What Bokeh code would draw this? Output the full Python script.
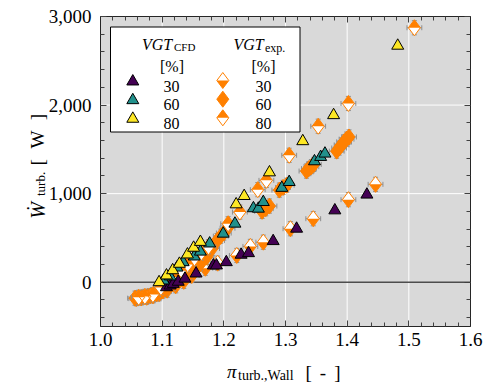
import numpy as np
from bokeh.plotting import figure
from bokeh.models import Range1d, FixedTicker, NumeralTickFormatter, LinearAxis, Label, BoxAnnotation
from bokeh.embed import file_html
from bokeh.resources import INLINE

# ---------------- data ----------------
vgt_levels = ["30", "60", "80"]

# CFD (triangles)
cfd30_pi = [1.107, 1.113, 1.118, 1.126, 1.137, 1.155, 1.183, 1.188, 1.204, 1.228, 1.240, 1.280, 1.318, 1.380, 1.432]
cfd30_W = [-57, -37, -19, 5, 40, 98, 189, 189, 226, 310, 328, 464, 604, 811, 989]

cfd60_pi = [1.102, 1.113, 1.124, 1.134, 1.152, 1.162, 1.177, 1.199, 1.218, 1.248, 1.256, 1.264, 1.294, 1.306, 1.347, 1.357, 1.364]
cfd60_W = [19, 65, 165, 226, 290, 345, 437, 548, 661, 835, 830, 905, 1065, 1131, 1365, 1414, 1452]

cfd80_pi = [1.095, 1.107, 1.117, 1.128, 1.141, 1.151, 1.162, 1.220, 1.233, 1.274, 1.328, 1.378, 1.482]
cfd80_W = [0, 76, 135, 208, 313, 389, 455, 879, 973, 1240, 1592, 1886, 2670]

# Experiment (diamonds)
exp30_pi = [1.058, 1.066, 1.075, 1.085, 1.095, 1.108, 1.122, 1.135, 1.148, 1.170, 1.190, 1.221, 1.243, 1.264, 1.308, 1.345, 1.402, 1.446]
exp30_W = [-185, -178, -170, -155, -130, -90, -40, 10, 76, 158, 215, 302, 404, 452, 604, 717, 932, 1105]

exp60_pi = [1.056, 1.061, 1.066, 1.071, 1.076, 1.081, 1.086, 1.091, 1.096, 1.101, 1.106, 1.112, 1.118, 1.124,
            1.130, 1.137, 1.145, 1.153, 1.162, 1.172, 1.181, 1.189, 1.195, 1.200, 1.206, 1.262, 1.268, 1.274,
            1.290, 1.296, 1.302, 1.334, 1.338, 1.342, 1.346, 1.383, 1.387, 1.391, 1.395, 1.399, 1.403]
exp60_W = [-180, -176, -172, -166, -160, -152, -144, -132, -118, -100, -75, -45, -15, 19,
           55, 85, 113, 160, 208, 283, 380, 470, 520, 555, 610, 800, 830, 860,
           1040, 1070, 1095, 1255, 1283, 1305, 1330, 1480, 1515, 1550, 1585, 1615, 1640]

exp80_pi = [1.062, 1.072, 1.085, 1.098, 1.110, 1.120, 1.130, 1.141, 1.152, 1.163, 1.175, 1.207, 1.226, 1.255,
            1.269, 1.306, 1.353, 1.402, 1.509]
exp80_W = [-170, -160, -140, -60, -5, 60, 130, 200, 270, 330, 400, 660, 792, 1045,
           1150, 1433, 1761, 2018, 2873]

pi_err = 0.012
W_err = 80

x_ticks = [1.0, 1.1, 1.2, 1.3, 1.4, 1.5, 1.6]
y_ticks = [0, 1000, 2000, 3000]

# ---------------- layout ----------------
WID, HEI = 487, 387
BL, BR, BT, BB = 100, 17, 16, 61          # plot box inside the canvas
FW, FH = WID - BL - BR, HEI - BT - BB
X0, X1 = 1.0, 1.6
Y0, Y1 = -500, 3000
SX = (X1 - X0) / FW
SY = (Y1 - Y0) / FH

def dx(cx):
    return X0 + (cx - BL) * SX

def dy(cy):
    return Y1 - (cy - BT) * SY

DW = 6.0 * SX
DH = 8.0 * SY

FONT = "Liberation Serif"
ORANGE = "#ff8000"
COLS = ["#440154", "#21918c", "#fde725"]
AXC = "#262626"

p = figure(width=WID, height=HEI,
           x_range=Range1d(dx(0), dx(WID)), y_range=Range1d(dy(HEI), dy(0)),
           output_backend="svg", toolbar_location=None,
           min_border_left=0, min_border_right=0, min_border_top=0, min_border_bottom=0,
           background_fill_color="white", border_fill_color="white")
p.outline_line_color = None
p.xgrid.visible = False
p.ygrid.visible = False

# plot-area background
p.add_layout(BoxAnnotation(left=X0, right=X1, bottom=Y0, top=Y1, fill_color="#d9d9d9",
                           fill_alpha=1, line_color=None, level="image"))

xminor = [round(v, 2) for v in np.arange(1.0, 1.6001, 0.02)]
yminor = list(range(-400, 3001, 200))
xt = FixedTicker(ticks=x_ticks, minor_ticks=xminor)
yt = FixedTicker(ticks=y_ticks, minor_ticks=yminor)

def style_axis(ax, show):
    ax.axis_line_color = AXC
    ax.major_tick_line_color = "#404040"
    ax.minor_tick_line_color = "#404040"
    ax.major_tick_in = 6
    ax.major_tick_out = 0
    ax.minor_tick_in = 4
    ax.minor_tick_out = 0
    ax.major_label_text_font = FONT
    ax.major_label_text_font_size = "19px"
    ax.major_label_text_color = "black" if show else None

p.xaxis.ticker = xt
p.yaxis.ticker = yt
p.xaxis.formatter = NumeralTickFormatter(format="0.0")
p.yaxis.formatter = NumeralTickFormatter(format="0,0")
p.xaxis.fixed_location = Y0
p.yaxis.fixed_location = X0
p.xaxis.bounds = (X0, X1)
p.yaxis.bounds = (Y0, Y1)
style_axis(p.xaxis[0], True)
style_axis(p.yaxis[0], True)
p.xaxis.major_label_standoff = 6
p.yaxis.major_label_standoff = 9

ax_r = LinearAxis(ticker=yt, fixed_location=X1, bounds=(Y0, Y1))
style_axis(ax_r, False)
p.add_layout(ax_r, "right")
ax_t = LinearAxis(ticker=xt, fixed_location=Y1, bounds=(X0, X1))
style_axis(ax_t, False)
p.add_layout(ax_t, "above")

# grid lines and zero line (from the tick lists)
gx = x_ticks[1:-1]
p.segment(gx, [Y0] * len(gx), gx, [Y1] * len(gx), line_color="white", line_width=1)
gy = y_ticks[1:-1]
p.segment([X0] * len(gy), gy, [X1] * len(gy), gy, line_color="white", line_width=1)
p.segment([X0], [0], [X1], [0], line_color="#4d4d4d", line_width=1.5)

# ---------------- helpers ----------------
def diamonds(xs, ys, part):
    px, py = [], []
    for x, y in zip(xs, ys):
        if part == "full":
            px.append([x - DW, x, x + DW, x]); py.append([y, y + DH, y, y - DH])
        elif part == "top":
            px.append([x - DW, x, x + DW]); py.append([y, y + DH, y])
        else:
            px.append([x - DW, x, x + DW]); py.append([y, y - DH, y])
    return px, py

def draw_exp(xs, ys, kind, errors=True):
    xs = list(xs); ys = list(ys)
    if errors:
        gc = "#8f8f8f"
        p.segment([x - pi_err for x in xs], ys, [x + pi_err for x in xs], ys, line_color=gc, line_width=1)
        p.segment(xs, [y - W_err for y in ys], xs, [y + W_err for y in ys], line_color=gc, line_width=1)
        p.scatter([x - pi_err for x in xs] + [x + pi_err for x in xs], ys + ys, marker="dash",
                  angle=np.pi / 2, size=5, line_color=gc, line_width=1)
        p.scatter(xs + xs, [y - W_err for y in ys] + [y + W_err for y in ys], marker="dash",
                  size=5, line_color=gc, line_width=1)
    fx, fy = diamonds(xs, ys, "full")
    if kind == "60":
        p.patches(fx, fy, fill_color=ORANGE, line_color=ORANGE, line_width=1)
    else:
        p.patches(fx, fy, fill_color="white", line_color=None)
        hx, hy = diamonds(xs, ys, "bottom" if kind == "30" else "top")
        p.patches(hx, hy, fill_color=ORANGE, line_color=None)
        p.patches(fx, fy, fill_color=None, line_color=ORANGE, line_width=1)

def draw_cfd(xs, ys, col):
    p.scatter(xs, ys, marker="triangle", size=12, fill_color=col, line_color="black", line_width=1)

# ---------------- data marks ----------------
draw_exp(exp30_pi, exp30_W, "30")
draw_exp(exp60_pi, exp60_W, "60")
draw_exp(exp80_pi, exp80_W, "80")
draw_cfd(cfd30_pi, cfd30_W, COLS[0])
draw_cfd(cfd60_pi, cfd60_W, COLS[1])
draw_cfd(cfd80_pi, cfd80_W, COLS[2])

# ---------------- legend ----------------
p.quad(left=[dx(110)], right=[dx(299.5)], top=[dy(26.5)], bottom=[dy(131.5)],
       fill_color="white", line_color="black", line_width=1)

def lab(text, cx, cy, size, italic=False, align="left", angle=0.0):
    p.add_layout(Label(x=dx(cx), y=dy(cy), text=text, text_font=FONT,
                       text_font_size=f"{size}px", text_font_style="italic" if italic else "normal",
                       text_align=align, text_baseline="alphabetic", angle=angle,
                       text_color="black"))

row_y = [80, 98.7, 117.3]
for i, lev in enumerate(vgt_levels):
    draw_cfd([dx(132.3)], [dy(row_y[i] + 1)], COLS[i])
    draw_exp([dx(222.3)], [dy(row_y[i])], lev, errors=False)
    lab(lev, 171, row_y[i] + 5.5, 16, align="center")
    lab(lev, 263, row_y[i] + 5.5, 16, align="center")

lab("VGT", 141.5, 44, 16, italic=True)
lab("CFD", 173.5, 46, 11)
lab("[%]", 171.5, 66, 16, align="center")
lab("VGT", 233, 44, 16, italic=True)
lab("exp.", 264.5, 47, 12)
lab("[%]", 263, 66, 16, align="center")

# ---------------- axis titles ----------------
lab("\u03c0", 226.5, 371, 19, italic=True)
lab("turb.,Wall", 237.5, 374.5, 14)
lab("[", 305, 372, 19)
lab("-", 322.5, 372, 19, align="center")
lab("]", 340, 372, 19, align="right")

A = np.pi / 2
lab("\u1e86", 37.3, 218.3, 20, italic=True, angle=A)
lab("turb.", 39.5, 195.5, 13, angle=A)
lab("[", 37.3, 165, 19, angle=A)
lab("W", 37.3, 139, 19, align="center", angle=A)
lab("]", 37.3, 113.3, 19, align="right", angle=A)

open("out.html", "w").write(file_html(p, INLINE))
